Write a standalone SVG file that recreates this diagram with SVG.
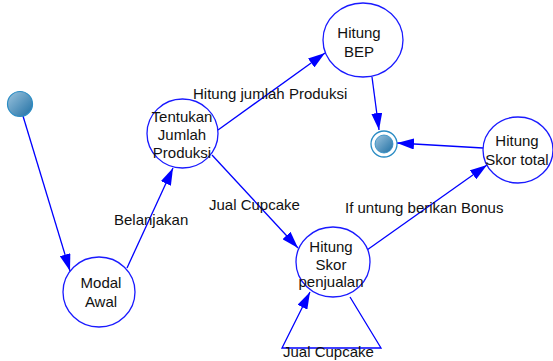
<svg xmlns="http://www.w3.org/2000/svg" width="553" height="361" viewBox="0 0 553 361">
  <defs>
    <linearGradient id="dotFill" x1="0" y1="0" x2="1" y2="1">
      <stop offset="0" stop-color="#9cc4de"/>
      <stop offset="1" stop-color="#1f6fa3"/>
    </linearGradient>
    <marker id="arrow" markerUnits="userSpaceOnUse" markerWidth="17" markerHeight="11" refX="17" refY="5.5" orient="auto">
      <path d="M0,0 L17,5.5 L0,11 z" fill="#0000ff"/>
    </marker>
  </defs>
  <style>
    .state { fill: #ffffff; stroke: #1a1aff; stroke-width: 1.3; }
    .edge { fill: none; stroke: #0000ff; stroke-width: 1.3; marker-end: url(#arrow); }
    text { font-family: "Liberation Sans", Arial, sans-serif; font-size: 15px; fill: #111111; }
    .c { text-anchor: middle; }
  </style>

  <rect width="553" height="361" fill="#ffffff"/>

  <!-- transitions -->
  <g id="connectors">
    <line class="edge" x1="23" y1="116" x2="70" y2="271"/>
    <line class="edge" x1="127" y1="268" x2="173" y2="168"/>
    <line class="edge" x1="218" y1="130" x2="325" y2="53"/>
    <line class="edge" x1="212" y1="155" x2="298" y2="248"/>
    <line class="edge" x1="372" y1="77" x2="379" y2="130"/>
    <line class="edge" x1="483" y1="148" x2="397" y2="143"/>
    <line class="edge" x1="367" y1="250" x2="487" y2="165"/>
    <polyline class="edge" points="350,297 381,348 282,348 310,292"/>
    <text x="193" y="99">Hitung jumlah Produksi</text>
    <text x="114" y="225">Belanjakan</text>
    <text x="209" y="210">Jual Cupcake</text>
    <text x="345" y="213">If untung berikan Bonus</text>
    <text x="283" y="357">Jual Cupcake</text>
  </g>

  <!-- initial state -->
  <g id="start">
    <circle cx="20" cy="104" r="12.5" fill="url(#dotFill)" stroke="#2a8cc4" stroke-width="1.2"/>
  </g>

  <!-- final state -->
  <g id="end">
    <circle cx="384" cy="144" r="13" fill="#ffffff" stroke="#2a8cc4" stroke-width="1.3"/>
    <circle cx="384" cy="144" r="9" fill="url(#dotFill)" stroke="#2a8cc4" stroke-width="0.8"/>
  </g>

  <g id="modal-awal">
    <ellipse class="state" cx="99" cy="292" rx="36" ry="35"/>
    <text class="c" x="101" y="288">Modal</text>
    <text class="c" x="101" y="307">Awal</text>
  </g>

  <g id="tentukan-jumlah-produksi">
    <ellipse class="state" cx="182.5" cy="133.5" rx="35.5" ry="34.5"/>
    <text class="c" x="182" y="122">Tentukan</text>
    <text class="c" x="182" y="140">Jumlah</text>
    <text class="c" x="182" y="158">Produksi</text>
  </g>

  <g id="hitung-bep">
    <ellipse class="state" cx="363" cy="40" rx="40" ry="37"/>
    <text class="c" x="359" y="38">Hitung</text>
    <text class="c" x="359" y="57">BEP</text>
  </g>

  <g id="hitung-skor-penjualan">
    <ellipse class="state" cx="333" cy="262" rx="37" ry="35"/>
    <text class="c" x="331" y="252">Hitung</text>
    <text class="c" x="331" y="270">Skor</text>
    <text class="c" x="331" y="287">penjualan</text>
  </g>

  <g id="hitung-skor-total">
    <ellipse class="state" cx="518" cy="150" rx="35" ry="33"/>
    <text class="c" x="517" y="146">Hitung</text>
    <text class="c" x="517" y="165">Skor total</text>
  </g>
</svg>
